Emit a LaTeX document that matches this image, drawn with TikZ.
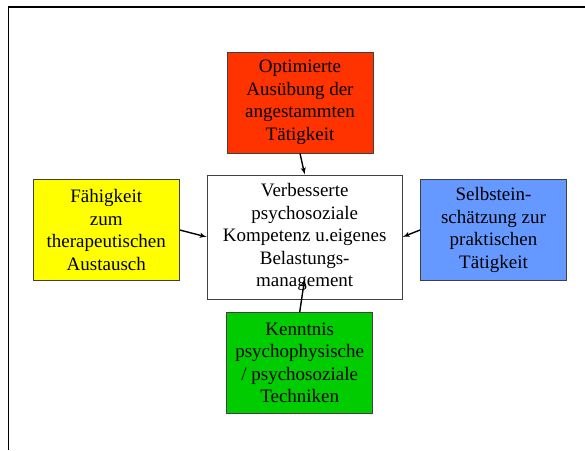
\documentclass[tikz,border=0pt]{standalone}
\usepackage{fontspec}
\setmainfont{Liberation Serif}
\usepackage{tikz}
\usetikzlibrary{arrows}

\definecolor{boxred}{RGB}{255,51,0}
\definecolor{boxyellow}{RGB}{255,255,0}
\definecolor{boxblue}{RGB}{102,153,255}
\definecolor{boxgreen}{RGB}{0,204,0}

\begin{document}
\begin{tikzpicture}
		[x=1pt,y=1pt,auto=center,
		every node/.style={rectangle,draw=black!75,line width=0.8pt,align=center,inner sep=2pt,
			font=\fontsize{19}{22.5}\selectfont,minimum width=146pt,minimum height=101pt},
		edge/.style={->,> = latex',line width=1.4pt},
		frame/.style={line width=1.5pt}]
		\useasboundingbox (0,0) rectangle (585,450);
		\draw[frame] (8.5,0) -- (8.5,443) -- (585,443);
		
		\node[fill=boxred] (opt) at (300,347.5) {Optimierte\\Ausübung der\\angestammten\\Tätigkeit};
		\node[fill=white,minimum width=195pt,minimum height=124pt] (komp) at (304.7,213) {Verbesserte\\psychosoziale\\Kompetenz u.eigenes\\Belastungs-\\management};
		\node[fill=boxyellow] (faeh) at (106.3,220) {Fähigkeit\\zum\\therapeutischen\\Austausch};
		\node[fill=boxblue] (selb) at (493.5,220) {Selbstein-\\schätzung zur\\praktischen\\Tätigkeit};
		\node[fill=boxgreen] (kennt) at (299.7,87) {Kenntnis\\psychophysische\\/ psychosoziale\\Techniken};
		\coordinate (ktip) at ([yshift=21pt]komp.south);
		
		\foreach \from/\to in {opt.south/komp.north,faeh.east/komp.west,selb.west/komp.east,kennt.north/ktip}
		\draw[edge] (\from) -- (\to);
		\end{tikzpicture}
\end{document}
